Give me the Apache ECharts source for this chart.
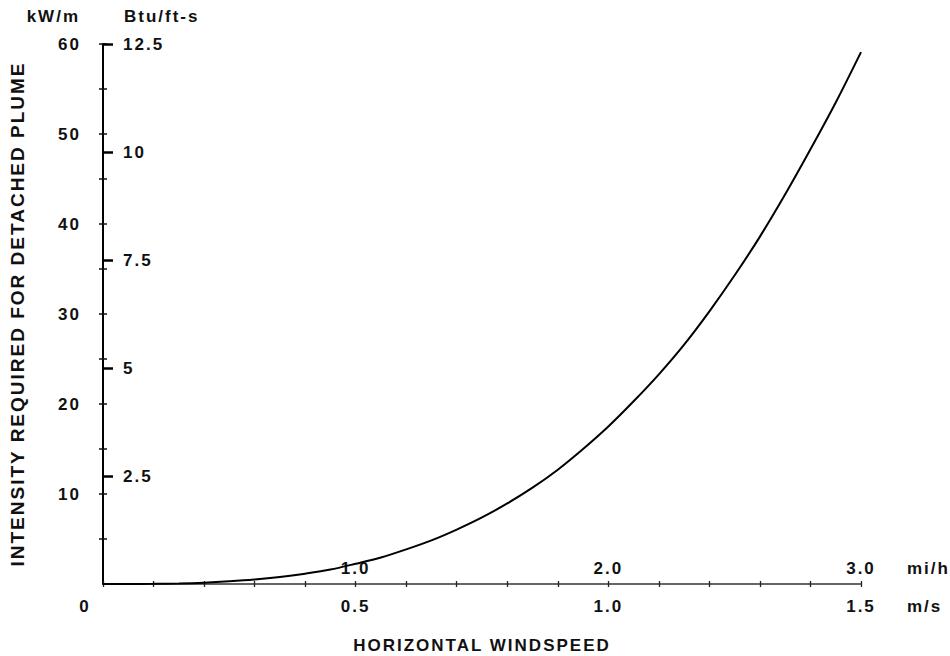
<!DOCTYPE html>
<html>
<head>
<meta charset="utf-8">
<script src="https://cdn.jsdelivr.net/npm/echarts@6/dist/echarts.min.js"></script>
<style>
  html, body { margin: 0; padding: 0; background: #fff; }
  #chart { width: 950px; height: 656px; }
  /* wide tracking of the lettering */
  #chart text { letter-spacing: 2px; }
</style>
</head>
<body>
<div id="chart"></div>
<script>
// Horizontal windspeed (m/s) and the fire intensity (kW/m) needed for a detached plume
const windSpeed = [0, 0.05, 0.1, 0.15, 0.2, 0.25, 0.3, 0.35, 0.4, 0.45, 0.5, 0.55, 0.6, 0.65, 0.7, 0.75,
  0.8, 0.85, 0.9, 0.95, 1.0, 1.05, 1.1, 1.15, 1.2, 1.25, 1.3, 1.35, 1.4, 1.45, 1.5];
const intensity = [0, 0, 0.02, 0.06, 0.15, 0.3, 0.5, 0.78, 1.15, 1.6, 2.25, 2.95, 3.85, 4.85, 6.05, 7.4,
  8.95, 10.7, 12.7, 15.0, 17.5, 20.3, 23.3, 26.6, 30.3, 34.3, 38.6, 43.3, 48.3, 53.5, 59.1];

// Tick labels of the four scales
const kwLabels = [10, 20, 30, 40, 50, 60];
const kwTicks = [5, 10, 15, 20, 25, 30, 35, 40, 45, 50, 55, 60];
const btuLabels = [2.5, 5, 7.5, 10, 12.5];
const msLabels = [0, 0.5, 1.0, 1.5];
const mphLabels = [1.0, 2.0, 3.0];

const FONT = 'Liberation Sans';
const INK = '#111';
const SIZE = 17;

const seriesData = windSpeed.map((v, i) => [v, intensity[i]]);

const chart = echarts.init(document.getElementById('chart'), null, { renderer: 'svg' });

const txt = (extra) => Object.assign({ color: INK, fontFamily: FONT, fontWeight: 'bold', fontSize: SIZE }, extra || {});

chart.setOption({
  backgroundColor: '#fff',
  animation: false,
  grid: { left: 103, right: 89, top: 44, bottom: 72, containLabel: false, outerBoundsMode: 'none' },
  xAxis: [
    {
      // metres per second, labelled below the line
      type: 'value', position: 'bottom', min: 0, max: 1.5, interval: 0.1,
      name: 'm/s', nameLocation: 'end', nameGap: 46,
      nameTextStyle: txt({ align: 'left', verticalAlign: 'top', padding: [14, 0, 0, 0] }),
      axisLine: { lineStyle: { color: '#333', width: 1.5 } },
      axisTick: { show: true, length: 3, lineStyle: { color: '#222', width: 1.3 } },
      axisLabel: txt({
        customValues: msLabels, margin: 14,
        formatter: v => (v === 0 ? '{o|0}' : v.toFixed(1)),
        rich: { o: txt({ padding: [0, 36, 0, 0] }) }
      }),
      splitLine: { show: false }
    },
    {
      // miles per hour, labelled just above the line
      type: 'value', position: 'bottom', min: 0, max: 3.0, interval: 0.2,
      name: 'mi/h', nameLocation: 'end', nameGap: 46,
      nameTextStyle: txt({ align: 'left', verticalAlign: 'bottom', padding: [0, 0, 7, 0] }),
      axisLine: { show: false },
      axisTick: { show: true, inside: true, length: 3, lineStyle: { color: '#222', width: 1.3 } },
      axisLabel: txt({ customValues: mphLabels, inside: true, margin: 7, formatter: v => v.toFixed(1) }),
      splitLine: { show: false }
    },
    {
      // axis title
      type: 'value', position: 'bottom', min: 0, max: 1.5,
      name: 'HORIZONTAL WINDSPEED', nameLocation: 'middle', nameGap: 53,
      nameTextStyle: txt(),
      axisLine: { show: false }, axisTick: { show: false }, axisLabel: { show: false },
      splitLine: { show: false }
    }
  ],
  yAxis: [
    {
      // kW/m scale, labels left of the line
      type: 'value', position: 'left', min: 0, max: 60, interval: 5,
      name: 'kW/m', nameLocation: 'end', nameGap: 19,
      nameTextStyle: txt({ align: 'right', verticalAlign: 'bottom', padding: [0, 23, 0, 0] }),
      axisLine: { lineStyle: { color: '#000', width: 2 } },
      axisTick: { customValues: kwTicks, length: 4, lineStyle: { color: '#111', width: 1.5 } },
      axisLabel: txt({ customValues: kwLabels, margin: 22 }),
      splitLine: { show: false }
    },
    {
      // inner half of the kW/m cross ticks, and the vertical title
      type: 'value', position: 'left', min: 0, max: 60, interval: 5,
      name: 'INTENSITY REQUIRED FOR DETACHED PLUME', nameLocation: 'middle', nameGap: 76, nameRotate: 90,
      nameTextStyle: txt({ fontSize: 19 }),
      axisLine: { show: false },
      axisTick: { customValues: kwTicks, inside: true, length: 4, lineStyle: { color: '#111', width: 1.5 } },
      axisLabel: { show: false },
      splitLine: { show: false }
    },
    {
      // Btu/ft-s scale, labels right of the line
      type: 'value', position: 'left', min: 0, max: 12.5, interval: 2.5,
      name: 'Btu/ft-s', nameLocation: 'end', nameGap: 19,
      nameTextStyle: txt({ align: 'left', verticalAlign: 'bottom', padding: [0, 0, 0, 21] }),
      axisLine: { show: false },
      axisTick: { customValues: btuLabels, inside: true, length: 10, lineStyle: { color: '#000', width: 2.5 } },
      axisLabel: txt({ customValues: btuLabels, inside: true, margin: 20 }),
      splitLine: { show: false }
    }
  ],
  series: [
    {
      type: 'line', xAxisIndex: 0, yAxisIndex: 0,
      data: seriesData, smooth: 0.3,
      showSymbol: false, symbol: 'none',
      lineStyle: { color: '#000', width: 2 },
      silent: true
    }
  ]
});
</script>
</body>
</html>
